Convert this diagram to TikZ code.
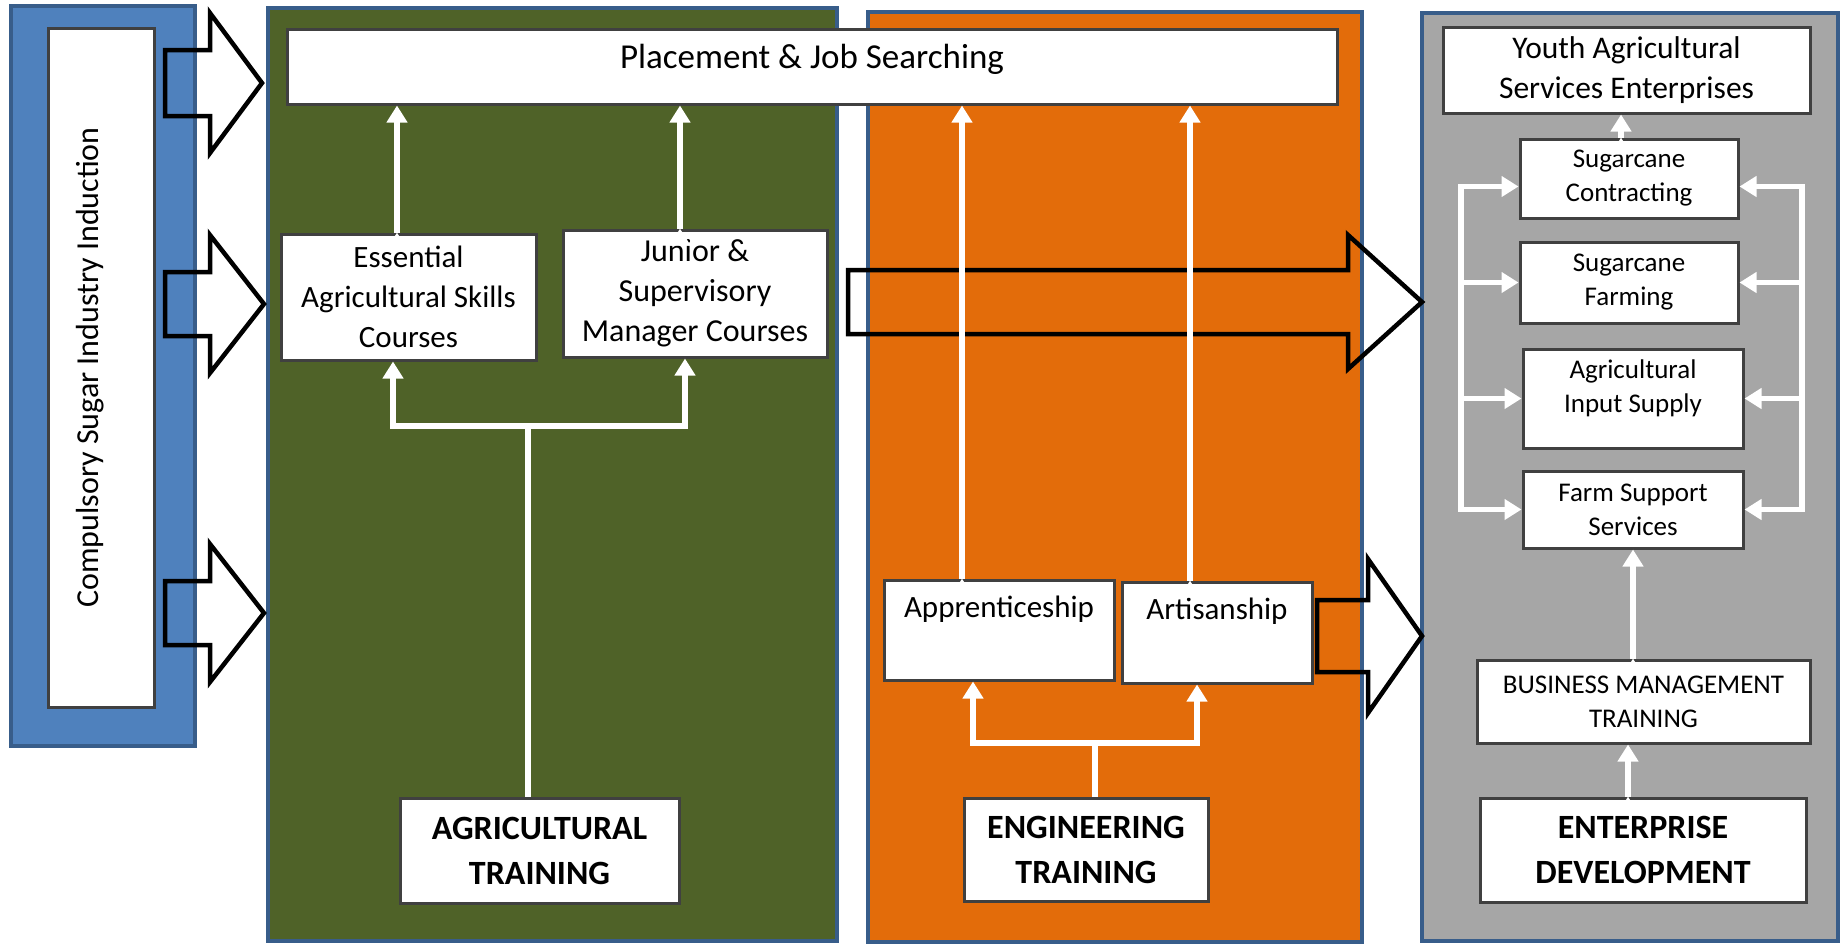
\documentclass[tikz,border=0pt]{standalone}
\usepackage{fontspec}
\setmainfont{Carlito}
\usepackage{tikz}
\usetikzlibrary{arrows.meta}
\definecolor{inductblue}{HTML}{4F81BD}
\definecolor{rimblue}{HTML}{385D8A}
\definecolor{agrigreen}{HTML}{4F6228}
\definecolor{engorange}{HTML}{E36C0A}
\definecolor{entgray}{HTML}{A6A6A6}
\definecolor{boxline}{HTML}{404040}
\tikzstyle{panel} = [rectangle, draw=rimblue, line width=3.5pt]
\tikzstyle{box} = [rectangle, draw=boxline, fill=white, line width=3pt, inner sep=0pt, align=center, font=\fontsize{31}{40}\selectfont]
\tikzstyle{small} = [font=\fontsize{27}{34}\selectfont]
\tikzstyle{heavy} = [font=\fontsize{34}{45}\selectfont\bfseries]
\tikzstyle{wire} = [draw, color=white, line width=5.5pt, -{Triangle[width=20pt,length=17pt]}]
\tikzstyle{trunk} = [draw, color=white, line width=5.5pt]
\tikzstyle{hollow} = [draw=black, line width=4.5pt]

\begin{document}
\begin{tikzpicture}[x=1pt,y=-1pt]
  \useasboundingbox (0,0) rectangle (1841,943);
  % panels
  \node[panel, fill=inductblue, minimum width=184pt, minimum height=740pt] (indpanel) at (103,376) {};
  \node[panel, fill=agrigreen, minimum width=569pt, minimum height=933pt] (agripanel) at (552.5,474.5) {};
  \node[panel, fill=engorange, minimum width=494pt, minimum height=930pt] (engpanel) at (1115,477) {};
  \node[panel, fill=entgray, minimum width=416pt, minimum height=928pt] (entpanel) at (1630,477) {};

  \node[box, rotate=90, minimum width=679pt, minimum height=106pt, font=\fontsize{32}{40}\selectfont, text height=23pt, text depth=28pt] (induct) at (101,367.5) {Compulsory Sugar Industry Induction};
  \node[box, minimum width=1050pt, minimum height=75pt, font=\fontsize{35}{42}\selectfont, text height=25pt, text depth=20.5pt] (place) at (812,66.5) {Placement \& Job Searching};

  % block arrows
  \foreach \xa/\xb/\xc/\yc/\ts/\hs in {165/210/262/83/33/70, 165/210/264/304/32/69, 165/210/264/613/32/69, 848/1348/1422/302/32/67, 1317/1368/1422/636/36/77}
    \draw[hollow] (\xa,\yc-\ts) -- (\xb,\yc-\ts) -- (\xb,\yc-\hs) -- (\xc,\yc) -- (\xb,\yc+\hs) -- (\xb,\yc+\ts) -- (\xa,\yc+\ts) -- cycle;

  % agricultural training
  \node[box, minimum width=255pt, minimum height=126pt] (ess) at (408.5,297) {Essential\\Agricultural Skills\\Courses};
  \node[box, minimum width=264pt, minimum height=127pt, font=\fontsize{32}{40}\selectfont] (jun) at (695,293.5) {Junior \&\\Supervisory\\Manager Courses};
  \node[box, heavy, minimum width=279pt, minimum height=105pt] (agri) at (539.5,850.5) {AGRICULTURAL\\TRAINING};
  \coordinate (afork) at (528,426);

  \path[wire] ([xshift=-11.5pt]ess.north) edge ([xshift=-11.5pt]ess.north |- place.south);
  \path[wire] ([xshift=-15pt]jun.north) edge ([xshift=-15pt]jun.north |- place.south);
  \draw[trunk] ([xshift=-11.5pt]agri.north) -- (afork);
  \draw[wire] (afork) -| ([xshift=-15.5pt]ess.south);
  \draw[wire] (afork) -| ([xshift=-10pt]jun.south);

  % engineering training
  \node[box, minimum width=230pt, minimum height=100pt, text height=22pt, text depth=48pt] (appr) at (999,630) {Apprenticeship};
  \node[box, minimum width=190pt, minimum height=101pt, text height=22pt, text depth=48pt] (artis) at (1217,632.5) {Artisanship};
  \node[box, heavy, minimum width=244pt, minimum height=103pt] (eng) at (1086,849.5) {ENGINEERING\\TRAINING};
  \coordinate (efork) at (1095,743);

  \path[wire] ([xshift=-37pt]appr.north) edge ([xshift=-37pt]appr.north |- place.south);
  \path[wire] ([xshift=-27pt]artis.north) edge ([xshift=-27pt]artis.north |- place.south);
  \draw[trunk] ([xshift=9pt]eng.north) -- (efork);
  \draw[wire] (efork) -| ([xshift=-26pt]appr.south);
  \draw[wire] (efork) -| ([xshift=-20pt]artis.south);

  % enterprise development
  \node[box, minimum width=367pt, minimum height=86pt, font=\fontsize{31.5}{40}\selectfont] (youth) at (1626.5,70) {Youth Agricultural\\Services Enterprises};
  \node[box, small, minimum width=218pt, minimum height=79pt] (contract) at (1629,178.5) {Sugarcane\\Contracting};
  \node[box, small, minimum width=218pt, minimum height=81pt] (farm) at (1629,282.5) {Sugarcane\\Farming};
  \node[box, small, minimum width=220pt, minimum height=99pt] (input) at (1633,398.5) {Agricultural\\Input Supply\\[-10pt]\mbox{}};
  \node[box, small, minimum width=220pt, minimum height=77pt] (support) at (1633,509.5) {Farm Support\\Services};
  \node[box, small, minimum width=333pt, minimum height=83pt] (business) at (1643.5,701.5) {BUSINESS MANAGEMENT\\TRAINING};
  \node[box, heavy, minimum width=326pt, minimum height=104pt] (ent) at (1643,850) {ENTERPRISE\\DEVELOPMENT};
  \coordinate (lbar) at (1461,0);
  \coordinate (rbar) at (1802,0);
  \coordinate (ctopl) at ([yshift=-8pt]contract.west);
  \coordinate (ctopr) at ([yshift=-8pt]contract.east);

  \path[wire] ([xshift=-8pt]contract.north) edge ([xshift=-8pt]contract.north |- youth.south);
  \path[wire] (business.north -| support.south) edge (support.south);
  \path[wire] ([xshift=-15pt]ent.north) edge ([xshift=-15pt]ent.north |- business.south);
  \draw[trunk, line cap=rect] (lbar |- ctopl) -- (lbar |- support.west);
  \draw[trunk, line cap=rect] (rbar |- ctopr) -- (rbar |- support.east);
  \draw[wire] (lbar |- ctopl) -- (ctopl);
  \draw[wire] (rbar |- ctopr) -- (ctopr);
  \foreach \b in {farm,input,support} {
    \draw[wire] (lbar |- \b.west) -- (\b.west);
    \draw[wire] (rbar |- \b.east) -- (\b.east);
  }
\end{tikzpicture}
\end{document}
